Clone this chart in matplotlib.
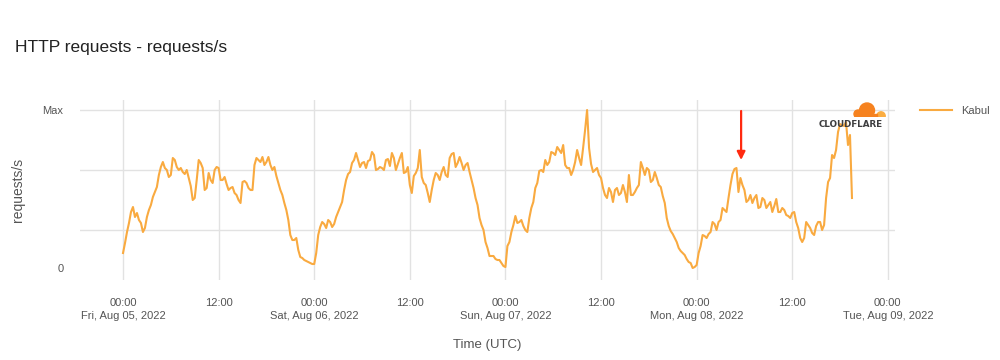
import matplotlib
matplotlib.use("Agg")
import matplotlib.pyplot as plt
import matplotlib.dates as mdates
from matplotlib.patches import Circle, Rectangle
import pandas as pd

plt.rcParams['font.family'] = ['Liberation Sans', 'DejaVu Sans']

# requests/s, Fri 05 Aug 2022 00:00 (UTC) onwards
series_name = 'Kabul'
start = '2022-08-05 00:00'
# readings at :00 and :30
req_half_hour = [
    15, 36, 56, 51, 48, 36, 51, 63, 76, 93, 106, 98, 93, 108, 98, 96,
    98, 82, 70, 108, 100, 80, 88, 98, 100, 88, 84, 80, 75, 68, 86, 85,
    78, 103, 108, 111, 106, 103, 101, 85, 73, 58, 33, 28, 18, 10, 7, 5,
    4, 33, 46, 40, 46, 44, 56, 66, 88, 96, 108, 108, 105, 100, 108, 113,
    99, 100, 108, 102, 110, 104, 115, 96, 83, 92, 100, 91, 83, 66, 88, 93,
    96, 93, 110, 115, 105, 105, 103, 96, 80, 63, 43, 26, 12, 12, 8, 5,
    1, 26, 43, 45, 48, 38, 50, 66, 85, 98, 108, 106, 115, 121, 115, 103,
    100, 98, 118, 103, 138, 120, 96, 100, 90, 73, 80, 66, 80, 75, 76, 93,
    73, 80, 106, 93, 98, 88, 90, 81, 65, 42, 34, 26, 17, 13, 6, 0,
    3, 22, 32, 34, 46, 38, 48, 58, 70, 94, 100, 90, 78, 68, 65, 73,
    61, 68, 63, 56, 69, 56, 58, 52, 55, 46, 30, 30, 43, 35, 42, 46,
    43, 86, 113, 118, 144, 142, 123, 70,
]
# readings at :15 and :45
req_quarter = [
    25, 45, 61, 55, 45, 40, 58, 71, 81, 101,
    100, 91, 110, 101, 100, 94, 90, 68, 88, 105,
    78, 95, 85, 101, 88, 91, 78, 81, 73, 65,
    87, 80, 78, 110, 106, 103, 111, 98, 92, 78,
    65, 48, 28, 30, 11, 8, 6, 4, 15, 41,
    44, 48, 41, 51, 61, 78, 94, 105, 115, 101,
    106, 107, 116, 98, 101, 98, 109, 115, 98, 110,
    95, 101, 75, 95, 118, 85, 75, 78, 95, 88,
    101, 91, 114, 101, 111, 98, 105, 88, 70, 50,
    38, 20, 12, 9, 8, 2, 22, 36, 52, 46,
    42, 36, 60, 80, 97, 96, 103, 116, 113, 118,
    123, 100, 93, 106, 110, 120, 158, 104, 98, 93,
    80, 70, 76, 78, 73, 83, 66, 73, 76, 83,
    100, 100, 86, 96, 83, 72, 50, 37, 30, 20,
    15, 9, 5, 1, 15, 33, 30, 36, 44, 46,
    60, 56, 83, 99, 76, 83, 66, 73, 70, 60,
    70, 60, 66, 62, 56, 60, 53, 50, 56, 40,
    26, 46, 40, 33, 46, 38, 70, 90, 110, 136,
    143, 146, 133,
]
y_grid = [38, 98, 158]
y_ticks = [0, 158]
y_ticklabels = ['0', 'Max']
days = ['Fri, Aug 05, 2022', 'Sat, Aug 06, 2022', 'Sun, Aug 07, 2022',
        'Mon, Aug 08, 2022', 'Tue, Aug 09, 2022']
marker_time = '2022-08-08 05:35'

requests = []
for i, v in enumerate(req_half_hour):
    requests.append(v)
    if i < len(req_quarter):
        requests.append(req_quarter[i])
times = pd.date_range(start, periods=len(requests), freq='15min')

tick_times = pd.date_range('2022-08-05 00:00', '2022-08-09 00:00', freq='12h')
tick_labels = []
for i, t in enumerate(tick_times):
    if i % 2 == 0:
        tick_labels.append('00:00\n' + days[i // 2])
    else:
        tick_labels.append('12:00')

line_color = '#f9aa40'
text_color = '#555555'
grid_color = '#e2e2e2'

fig = plt.figure(figsize=(10, 3.6), dpi=100)
ax = fig.add_axes([0.08, 0.2222, 0.815, 0.5])

ax.plot(times, requests, color=line_color, lw=1.5, label=series_name)

ax.set_xlim(pd.Timestamp('2022-08-04 18:36'), pd.Timestamp('2022-08-09 00:54'))
ax.set_ylim(-12, 168)

for v in y_grid:
    ax.axhline(v, color=grid_color, lw=1, zorder=0)
for t in tick_times:
    ax.axvline(t, color=grid_color, lw=1, zorder=0)

ax.set_xticks(tick_times)
ax.set_xticklabels(tick_labels, fontsize=8, color=text_color, linespacing=1.35,
                   va='top')
ax.set_yticks(y_ticks)
ax.set_yticklabels(y_ticklabels, fontsize=8, color=text_color)
ax.tick_params(axis='x', length=0, pad=13)
ax.tick_params(axis='y', length=0, pad=12)
for s in ax.spines.values():
    s.set_visible(False)

ax.set_ylabel('requests/s', fontsize=10, color=text_color)
ax.yaxis.set_label_coords(-0.0675, 0.5)
ax.set_xlabel('Time (UTC)', fontsize=9.5, color=text_color)
ax.xaxis.set_label_coords(0.5, -0.33)

fig.text(0.015, 0.869, 'HTTP requests - requests/s', fontsize=12.5,
         color='#222222', va='center', ha='left')

# red arrow marking the Monday morning peak
mx = mdates.date2num(pd.Timestamp(marker_time))
ax.annotate('', xy=(mx, 108), xytext=(mx, 157),
            arrowprops=dict(arrowstyle='-|>', color='#ff2a10', lw=1.6,
                            mutation_scale=12, shrinkA=0, shrinkB=0))

leg = ax.legend(loc='upper left', bbox_to_anchor=(1.025, 0.99), frameon=False,
                fontsize=8, handlelength=2.9, borderaxespad=0)
for txt in leg.get_texts():
    txt.set_color(text_color)

# logo
fig.text(0.851, 0.655, 'CLOUDFLARE', fontsize=6.3, fontweight='bold',
         family='DejaVu Sans', color='#3d3d3f', ha='center', va='center')
lax = fig.add_axes([0.848, 0.675, 0.044, 17 / 360])
lax.set_xlim(0, 44)
lax.set_ylim(3, 20)
lax.axis('off')
lax.add_patch(Circle((33, 4), 4.2, color='#fbad41'))
lax.add_patch(Circle((19, 9.5), 7.5, color='#f6821f'))
lax.add_patch(Circle((10, 6), 4, color='#f6821f'))
lax.add_patch(Rectangle((7, 3), 22, 3, color='#f6821f'))

fig.savefig('out.png', dpi=100)
